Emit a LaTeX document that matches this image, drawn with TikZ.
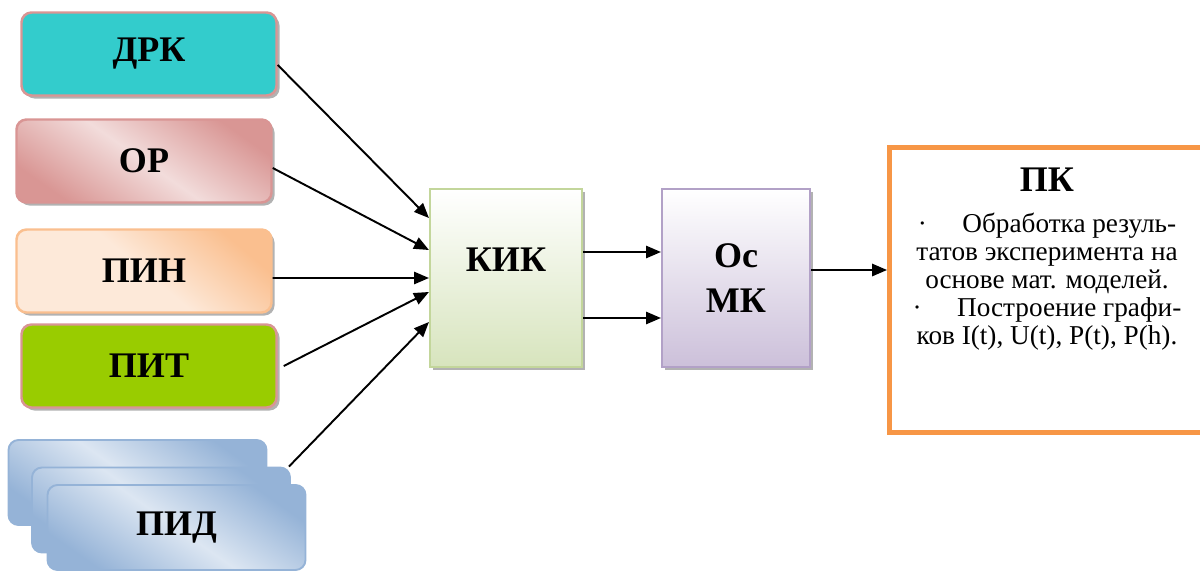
\documentclass[tikz,border=0pt]{standalone}
\usepackage{fontspec}
\setmainfont{LiberationSerif}[Extension=.ttf, UprightFont=*-Regular, BoldFont=*-Bold, ItalicFont=*-Italic, BoldItalicFont=*-BoldItalic]
\usepackage{tikz}
\usetikzlibrary{arrows.meta, shadows, positioning}
\definecolor{drkfill}{HTML}{33CCCC}
\definecolor{pinkline}{HTML}{D99594}
\definecolor{opdark}{HTML}{D99694}
\definecolor{oplight}{HTML}{F2DCDB}
\definecolor{pindark}{HTML}{FABF8F}
\definecolor{pinlight}{HTML}{FDE9D9}
\definecolor{pitfill}{HTML}{99CC00}
\definecolor{piddark}{HTML}{95B3D7}
\definecolor{pidlight}{HTML}{DCE6F2}
\definecolor{kikfill}{HTML}{D7E4BD}
\definecolor{kikline}{HTML}{C3D69B}
\definecolor{osfill}{HTML}{CCC0DA}
\definecolor{osline}{HTML}{B2A1C7}
\definecolor{pcline}{HTML}{F79646}
\tikzstyle{sensor} = [rectangle, rounded corners=0.2cm, minimum width=5.1cm, minimum height=1.66cm, text centered, line width=1.4pt, font=\fontsize{20.5}{24}\selectfont\bfseries]
\tikzstyle{shade} = [drop shadow={shadow xshift=0.06cm, shadow yshift=-0.06cm, fill=black, opacity=0.3}]
\tikzstyle{drkbox} = [sensor, shade, draw=pinkline, fill=drkfill]
\tikzstyle{opbox} = [sensor, shade, draw=pinkline, top color=opdark, bottom color=opdark, middle color=oplight, shading angle=-35]
\tikzstyle{pinbox} = [sensor, shade, draw=pindark, top color=pindark, bottom color=pinlight, middle color=pinlight, shading angle=-40]
\tikzstyle{pitbox} = [sensor, shade, draw=pinkline, fill=pitfill]
\tikzstyle{pidbox} = [sensor, minimum width=5.16cm, minimum height=1.7cm, line width=1.1pt, draw=piddark, top color=piddark, bottom color=piddark, middle color=pidlight, shading angle=-35]
\tikzstyle{unit} = [rectangle, minimum width=3.04cm, minimum height=3.56cm, text centered, line width=1.2pt, shade, font=\fontsize{20.5}{25.5}\selectfont\bfseries]
\tikzstyle{pcbox} = [rectangle, minimum width=6.5cm, minimum height=5.7cm, draw=pcline, line width=2.8pt, fill=white]
\tikzstyle{arrow} = [line width=1.1pt,->,>={Triangle[length=8.5pt,width=7pt]}]

\begin{document}
\begin{tikzpicture}[node distance=2.14cm]

    \clip (0,0) rectangle (24,11.42);

    \node (drk) [drkbox] at (2.98,10.34) {ДРК};
    \node (op) [opbox, below of=drk, xshift=-0.1cm] {ОР};
    \node (pin) [pinbox, below of=op, yshift=-0.06cm] {ПИН};
    \node (pit) [pitbox, below of=pin, xshift=0.1cm, yshift=0.24cm] {ПИТ};
    \node (pid1) [pidbox, below of=pit, xshift=-0.23cm, yshift=-0.19cm] {};
    \node (pid2) [pidbox] at ([xshift=0.47cm, yshift=-0.55cm]pid1) {};
    \node (pid3) [pidbox] at ([xshift=0.31cm, yshift=-0.35cm]pid2) {ПИД};

    \node (kik) [unit, draw=kikline, top color=white, bottom color=kikfill, text depth=0.72cm] at (10.12,5.86) {КИК};
    \node (osmk) [unit, right of=kik, xshift=2.46cm, minimum width=2.96cm, draw=osline, top color=white, bottom color=osfill, align=center] {Ос\\МК};

    \node (pc) [pcbox] at (21.04,5.62) {};
    \node (pctext) [below=0.45cm of pc.north, xshift=-0.1cm, inner sep=0pt, align=center, font=\fontsize{15.5}{15.9}\selectfont] {{\fontsize{20.5}{24}\selectfont\bfseries ПК}\\[7.5pt]
        ·\hspace{1.3em}Обработка резуль-\\
        татов эксперимента на\\
        основе мат. моделей.\\
        ·\hspace{1.3em}Построение графи-\\
        ков I(t), U(t), P(t), P(h).};

    \draw [arrow] ([yshift=-0.22cm]drk.east) -- ([yshift=1.2cm]kik.west);
    \draw [arrow] ([yshift=-0.14cm]op.east) -- ([yshift=0.56cm]kik.west);
    \draw [arrow] ([yshift=-0.14cm]pin.east) -- (kik.west);
    \draw [arrow] ([xshift=0.12cm]pit.east) -- ([yshift=-0.28cm]kik.west);
    \draw [arrow] ([xshift=-0.04cm]pid2.north east) -- ([yshift=-0.88cm]kik.west);
    \draw [arrow] ([yshift=0.52cm]kik.east) -- ([yshift=0.52cm]osmk.west);
    \draw [arrow] ([yshift=-0.8cm]kik.east) -- ([yshift=-0.8cm]osmk.west);
    \draw [arrow] ([yshift=0.16cm]osmk.east) -- ([yshift=0.4cm]pc.west);

\end{tikzpicture}
\end{document}
